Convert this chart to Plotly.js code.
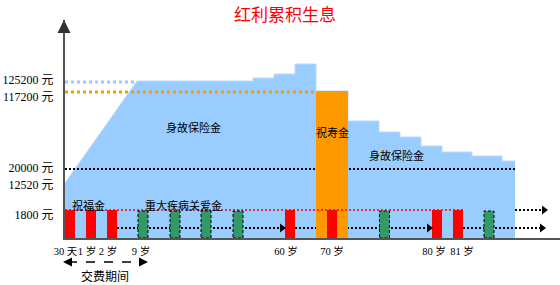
<!DOCTYPE html>
<html><head><meta charset="utf-8">
<script src="https://cdn.plot.ly/plotly-3.0.1.min.js"></script>
<style>html,body{margin:0;padding:0;background:#fff}#chart{width:560px;height:285px}</style>
</head><body><div id="chart"></div>
<script>
// Schematic units: x = position on the timeline, y = benefit level (schematic height)
const rampX = [0, 72];
const rampY = [55, 157];
const deathStepStart = [72, 188, 209, 230, 251, 283, 314, 335, 356, 377, 407, 437];
const deathStepEnd = 450;
const deathStepY = [157, 160, 164, 174, 147, 117, 106, 101, 92, 86, 82, 77];
const longevityX = [267];
const longevityY = [147];
const blessingX = [5, 26, 47, 225, 267, 372, 393];
const blessingY = [28, 28, 28, 28, 28, 28, 28];
const ciCareX = [78, 110, 141, 173, 319.5, 424];
const ciCareY = [27, 27, 27, 27, 27, 27];
const level125200X = [0, 72], level125200Y = [156, 156];
const level117200X = [0, 251], level117200Y = [146, 146];
const level20000X = [0, 450], level20000Y = [69, 69];
const level1800X = [0, 398], level1800Y = [28, 28];
const flowLowX = [52, 217, null, 230, 364, null, 398, 477];
const flowLowY = [10, 10, null, 10, 10, null, 10, 10];
const flowUpX = [450, 479];
const flowUpY = [28, 28];
const arrowX = [217, 364, 477, 479];
const arrowY = [10, 10, 10, 28];
const yTickPos = [158, 141, 70, 53, 23];
const yTickText = ['125200 元', '117200 元', '20000 元', '12520 元', '1800 元'];
const ageTickPos = [0.5, 22, 43, 76, 221, 267, 369, 397];
const ageTickText = ['30 天', '1 岁', '2 岁', '9 岁', '60 岁', '70 岁', '80 岁', '81 岁'];
const labelText = ['身故保险金', '祝寿金', '身故保险金', '祝福金', '重大疾病关爱金'];
const labelX = [128, 267, 331, 23, 118];
const labelY = [111, 106, 83, 33, 33];

function rects(centers, heights, w) {
  const xs = [], ys = [];
  centers.forEach((c, i) => {
    const l = c - w / 2, r = c + w / 2, h = heights[i];
    xs.push(l, r, r, l, l, null);
    ys.push(0, 0, h, h, 0, null);
  });
  return {x: xs, y: ys};
}

const BLUE = '#99ccff';
const serif = 'Liberation Serif, "Noto Sans CJK SC", serif';
const sans = '"Noto Sans CJK SC", sans-serif';

const stepX = deathStepStart.concat([deathStepEnd]);
const stepY = deathStepY.concat([deathStepY[deathStepY.length - 1]]);
const lon = rects(longevityX, longevityY, 32);
const red = rects(blessingX, blessingY, 10);
const green = rects(ciCareX, ciCareY, 10);

const dotLine = (x, y, color, width, dash) => ({
  x, y, type: 'scatter', mode: 'lines', line: {color, width, dash}, hoverinfo: 'skip', connectgaps: false
});

const traces = [
  {x: rampX, y: rampY, type: 'scatter', mode: 'lines', fill: 'tozeroy', fillcolor: BLUE,
   line: {color: '#b8dcff', width: 1}, hoverinfo: 'skip'},
  {x: stepX, y: stepY, type: 'scatter', mode: 'lines', fill: 'tozeroy', fillcolor: BLUE,
   line: {color: '#b8dcff', width: 1, shape: 'hv'}, hoverinfo: 'skip'},
  dotLine(level125200X, level125200Y, BLUE, 3, '3px,3px'),
  dotLine(level117200X, level117200Y, '#ff9900', 3, '3px,3px'),
  dotLine(level20000X, level20000Y, '#000', 2, '2px,2px'),
  dotLine(flowLowX, flowLowY, '#000', 2, '2px,2px'),
  dotLine(flowUpX, flowUpY, '#000', 2, '2px,2px'),
  {x: lon.x, y: lon.y, type: 'scatter', mode: 'lines', fill: 'toself', fillcolor: '#ff9900',
   line: {width: 0, color: '#ff9900'}, hoverinfo: 'skip'},
  dotLine(level1800X, level1800Y, '#ff0000', 1.5, '2px,2px'),
  {x: red.x, y: red.y, type: 'scatter', mode: 'lines', fill: 'toself', fillcolor: '#ff0000',
   line: {width: 0, color: '#ff0000'}, hoverinfo: 'skip'},
  {x: green.x, y: green.y, type: 'scatter', mode: 'lines', fill: 'toself', fillcolor: '#339966',
   line: {width: 1, color: '#000', dash: '3px,2px'}, hoverinfo: 'skip'},
  {x: arrowX, y: arrowY, type: 'scatter', mode: 'markers', cliponaxis: false,
   marker: {symbol: 'triangle-right', size: 8, color: '#000'}, hoverinfo: 'skip'}
];

const annotations = labelText.map((t, i) => ({
  x: labelX[i], y: labelY[i], xref: 'x', yref: 'y', text: t, showarrow: false,
  xanchor: 'center', yanchor: 'middle',
  font: {family: sans, size: 11, color: '#000'}
}));
const px = v => (v - 65) / 495, py = v => (238 - v) / 218;
annotations.push(
  {xref: 'paper', yref: 'paper', x: px(64), y: 1, ax: 0, ay: 10, text: '', showarrow: true,
   arrowhead: 2, arrowsize: 1.3, arrowwidth: 2, arrowcolor: '#333'},
  {xref: 'paper', yref: 'paper', x: px(63), y: py(262), ax: 8, ay: 0, text: '', showarrow: true,
   arrowhead: 2, arrowsize: 1.2, arrowwidth: 1.5, arrowcolor: '#000'},
  {xref: 'paper', yref: 'paper', x: px(148), y: py(262), ax: -8, ay: 0, text: '', showarrow: true,
   arrowhead: 2, arrowsize: 1.2, arrowwidth: 1.5, arrowcolor: '#000'},
  {xref: 'paper', yref: 'paper', x: px(105), y: py(275), text: '交费期间', showarrow: false,
   xanchor: 'center', yanchor: 'middle',
   font: {family: sans, size: 12, color: '#000'}}
);

const layout = {
  width: 560, height: 285, autosize: false,
  margin: {l: 65, r: 0, t: 20, b: 47, pad: 0},
  paper_bgcolor: '#fff', plot_bgcolor: '#fff', showlegend: false,
  title: {text: '红利累积生息', font: {family: sans, size: 17, color: '#ff0000'},
          x: 285 / 560, xref: 'container', xanchor: 'center', y: 1 - 15 / 285, yref: 'container', yanchor: 'middle'},
  xaxis: {range: [0, 495], showline: true, linecolor: '#555', linewidth: 2, showgrid: false, zeroline: false,
          ticks: '', tickvals: ageTickPos, ticktext: ageTickText, tickangle: 0,
          tickfont: {family: serif, size: 10.5, color: '#000'}, ticklabelstandoff: 2, fixedrange: true},
  yaxis: {range: [0, 218], showline: true, linecolor: '#555', linewidth: 2, showgrid: false, zeroline: false,
          ticks: '', tickvals: yTickPos, ticktext: yTickText, tickfont: {family: serif, size: 12, color: '#000'},
          ticklabelstandoff: 7, fixedrange: true},
  shapes: [{type: 'line', xref: 'paper', yref: 'paper', x0: px(68), x1: px(143), y0: py(262), y1: py(262),
            line: {color: '#000', width: 1.5, dash: 'dash'}}],
  annotations
};
Plotly.newPlot('chart', traces, layout, {displayModeBar: false, staticPlot: true});
</script></body></html>
